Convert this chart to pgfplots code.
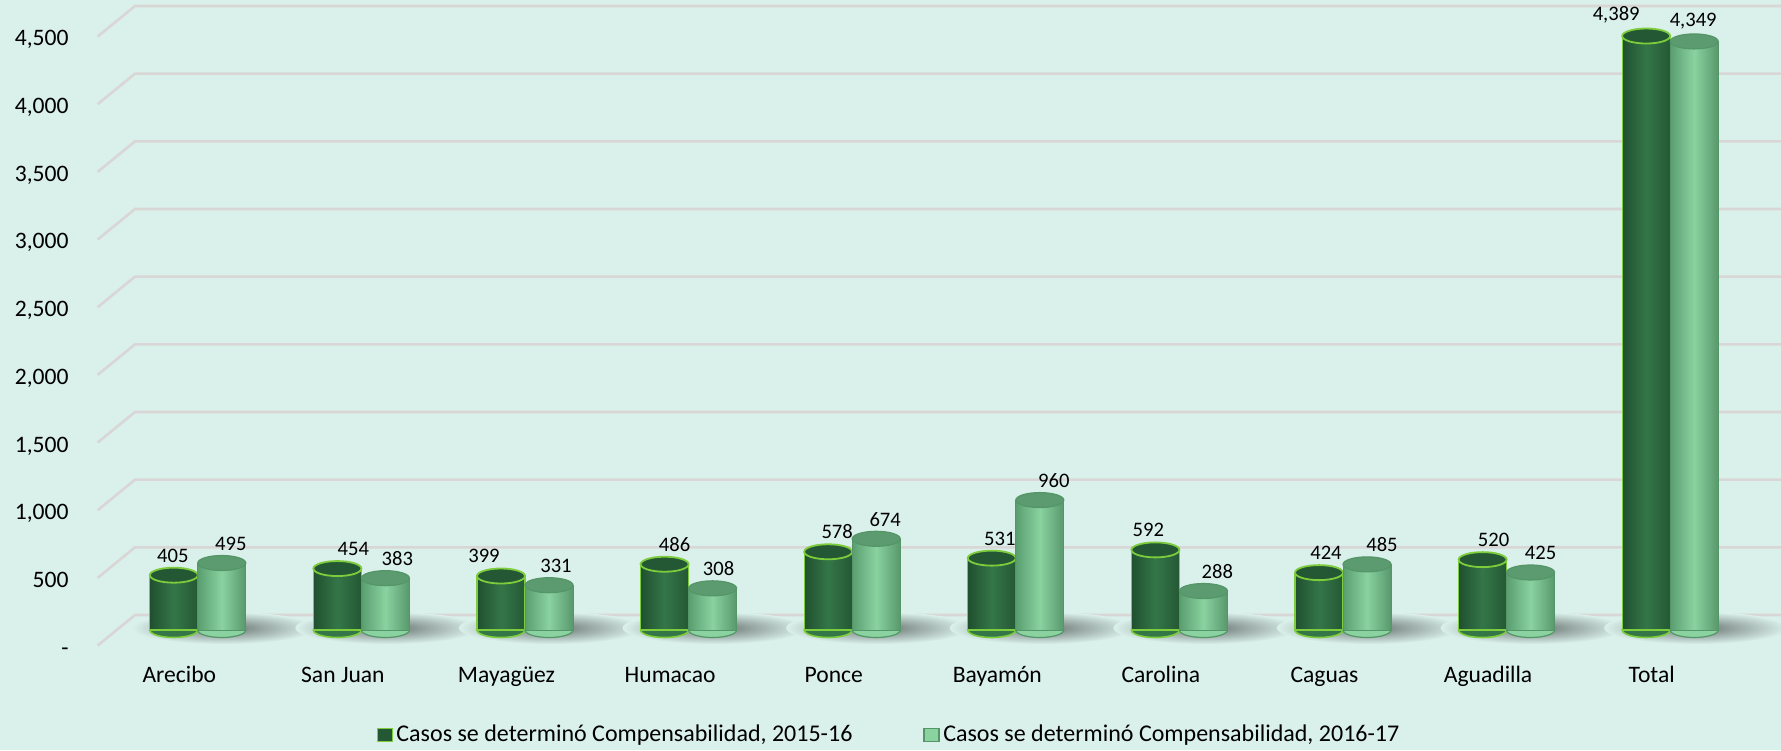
\documentclass[border=0pt]{standalone}
\usepackage{fontspec}
\setmainfont{Carlito}
\usepackage{pgfplots}
\usepackage{pgfplotstable}
\pgfplotsset{compat=1.18}
\pgfdeclarelayer{background}
\pgfsetlayers{background,main}

\definecolor{bg}{RGB}{218,240,234}
\definecolor{gridc}{RGB}{217,214,214}
\definecolor{dkL}{RGB}{32,80,47}
\definecolor{dkM}{RGB}{52,118,72}
\definecolor{dkR}{RGB}{36,88,52}
\definecolor{dkEdge}{RGB}{124,204,60}
\definecolor{dkCap}{RGB}{36,88,52}
\definecolor{ltL}{RGB}{90,158,112}
\definecolor{ltM}{RGB}{138,210,160}
\definecolor{ltR}{RGB}{88,152,108}
\definecolor{ltEdge}{RGB}{84,150,104}
\definecolor{ltCap}{RGB}{92,154,112}

\pgfdeclareplotmark{cap}{\pgfpathellipse{\pgfpointorigin}{\pgfqpoint{12pt}{0pt}}{\pgfqpoint{0pt}{3.75pt}}\pgfusepathqfillstroke}
\pgfdeclareplotmark{shadow}{\shade[draw=none, inner color=black!52!bg, outer color=bg] (13pt,1pt) ellipse (46pt and 8pt);}

\pgfplotstableread{
x a b dxa dxb
0 405 495 -0.5 4.5
1 454 383 8 6
2 399 331 -8.5 3.5
3 486 308 5 3
4 578 674 4.5 4.5
5 531 960 4 7
6 592 288 -3.5 7
7 424 485 3.5 7.5
8 520 425 5.5 5
9 4389 4349 -15 -0.5
}\data

\begin{document}
\begin{tikzpicture}
\begin{axis}[
  scale only axis,
  width=818pt, height=304.5pt,
  xmin=-0.5, xmax=9.5, ymin=0, ymax=4500,
  clip=false,
  clip marker paths=true,
  axis line style={draw=none},
  tick style={draw=none},
  major tick length=0pt,
  /pgf/number format/assume math mode=true,
  /pgf/number format/1000 sep={,},
  ytick={0,500,...,4500},
  yticklabels={-,500,{1,000},{1,500},{2,000},{2,500},{3,000},{3,500},{4,000},{4,500}},
  yticklabel style={anchor=base east, inner sep=0pt, xshift=-23.5pt, yshift=-12.5pt, font=\fontsize{11.8}{14}\selectfont},
  xtick={0,...,9},
  xticklabels={Arecibo,San Juan,Mayagüez,Humacao,Ponce,Bayamón,Carolina,Caguas,Aguadilla,Total},
  xticklabel style={anchor=base, inner sep=0pt, yshift=-26pt, xshift=-9.25pt, font=\fontsize{11.8}{14}\selectfont},
  legend columns=2,
  legend style={at={(0.4728,-0.1724)}, anchor=center, draw=none, fill=none,
    font=\fontsize{12}{14}\selectfont,
    nodes={inner xsep=1.5pt},
    /tikz/every even column/.append style={column sep=34pt},
    inner sep=0pt},
  legend cell align=left,
]
\pgfplotsinvokeforeach{0,500,...,4500}{
  \draw[gridc, line width=1.3pt] ([xshift=-9.15pt,yshift=-7.75pt]axis cs:-0.5,#1) -- ([xshift=9.5pt,yshift=7.5pt]axis cs:-0.5,#1) -- ([xshift=14.5pt,yshift=7.5pt]axis cs:9.5,#1);
}
\addlegendimage{legend image code/.code={\draw[fill=dkR, draw=dkEdge, line width=0.9pt] (0pt,-3.25pt) rectangle (7.5pt,3.25pt);}}
\addlegendentry{Casos se determinó Compensabilidad, 2015-16}
\addlegendimage{legend image code/.code={\draw[fill=ltM, draw=ltEdge, line width=0.9pt] (0pt,-3.25pt) rectangle (7.5pt,3.25pt);}}
\addlegendentry{Casos se determinó Compensabilidad, 2016-17}

% shadows
\addplot[forget plot, only marks, mark=shadow] table[x=x, y expr=0]{\data};
% dark series
\addplot[forget plot, only marks, mark=cap, mark options={fill=dkM, draw=dkEdge, line width=0.8pt}] table[x expr=\thisrow{x}-0.1467, y expr=0]{\data};
\pgfplotsinvokeforeach{0,...,9}{
\addplot[forget plot, ybar, bar width=24pt, bar shift=0pt, draw=dkEdge, line width=0.6pt, left color=dkL, right color=dkR, middle color=dkM] table[x expr=\thisrow{x}-0.1467, y expr={\thisrow{x}==#1 ? \thisrow{a} : nan}]{\data};
}
\addplot[forget plot, only marks, mark=cap, mark options={fill=dkCap, draw=dkEdge, line width=0.9pt},
  visualization depends on={\thisrow{dxa}\as\lblshift},
  nodes near coords, nodes near coords style={anchor=south, inner sep=0pt, yshift=6pt, xshift=\lblshift pt, font=\fontsize{10.3}{12}\selectfont, text=black}]
  table[x expr=\thisrow{x}-0.1467, y=a]{\data};
% light series
\addplot[forget plot, only marks, mark=cap, mark options={fill=ltM, draw=ltEdge, line width=0.6pt}] table[x expr=\thisrow{x}+0.1467, y expr=0]{\data};
\pgfplotsinvokeforeach{0,...,9}{
\addplot[forget plot, ybar, bar width=24pt, bar shift=0pt, draw=ltEdge, line width=0.5pt, left color=ltL, right color=ltR, middle color=ltM] table[x expr=\thisrow{x}+0.1467, y expr={\thisrow{x}==#1 ? \thisrow{b} : nan}]{\data};
}
\addplot[forget plot, only marks, mark=cap, mark options={fill=ltCap, draw=ltEdge, line width=0.6pt},
  visualization depends on={\thisrow{dxb}\as\lblshift},
  nodes near coords, nodes near coords style={anchor=south, inner sep=0pt, yshift=6pt, xshift=\lblshift pt, font=\fontsize{10.3}{12}\selectfont, text=black}]
  table[x expr=\thisrow{x}+0.1467, y=b]{\data};
\end{axis}
\begin{pgfonlayer}{background}
\fill[bg] ([xshift=-58pt,yshift=-60pt]current axis.south west) rectangle ([xshift=14.5pt,yshift=10.5pt]current axis.north east);
\end{pgfonlayer}
\pgfresetboundingbox
\path[use as bounding box] ([xshift=-58pt,yshift=-60pt]current axis.south west) rectangle ([xshift=14.5pt,yshift=10.5pt]current axis.north east);
\end{tikzpicture}
\end{document}
